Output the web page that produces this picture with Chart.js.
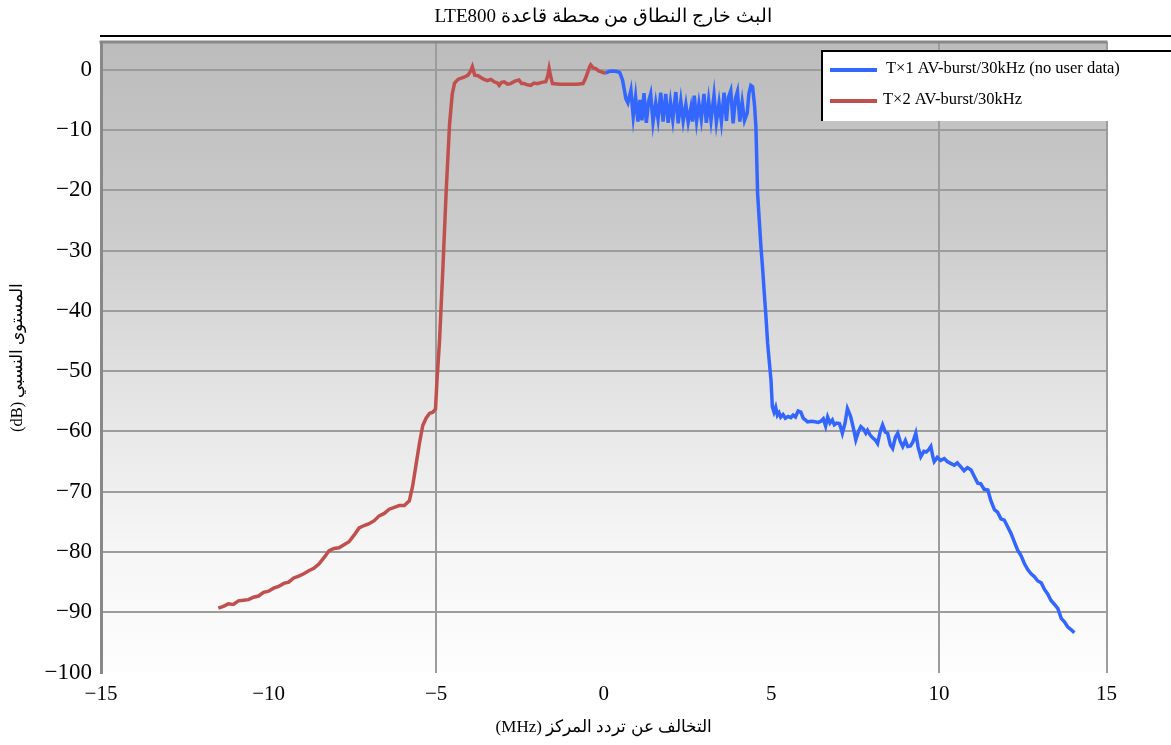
<!DOCTYPE html>
<html lang="ar">
<head>
  <meta charset="UTF-8" />
  <title>LTE800 out-of-band emission</title>
  <script src="https://cdn.jsdelivr.net/npm/chart.js"></script>
  <style>
    body { margin: 0; background: #fff; }
    canvas { display: block; }
  </style>
</head>
<body>
  <canvas id="oobChart" width="1171" height="745"></canvas>

  <script>
    // values (MHz offset / dB)
    const xTicks = [-15, -10, -5, 0, 5, 10, 15];
    const yTicks = [-100, -90, -80, -70, -60, -50, -40, -30, -20, -10, 0];
    const xGridShown = [-5, 10, 15];

    const tx2Freq = [-11.50, -11.35, -11.20, -11.05, -10.90, -10.75, -10.60, -10.45, -10.30, -10.15, -10.00, -9.85, -9.70, -9.55, -9.40, -9.25, -9.10, -8.95, -8.80, -8.65, -8.50, -8.40, -8.30, -8.20, -8.05, -7.90, -7.75, -7.60, -7.45, -7.30, -7.15, -7.00, -6.85, -6.70, -6.55, -6.40, -6.25, -6.10, -5.95, -5.80, -5.70, -5.60, -5.50, -5.40, -5.30, -5.20, -5.10, -5.02, -4.97, -4.90, -4.80, -4.70, -4.60, -4.52, -4.45, -4.35, -4.25, -4.15, -4.05, -3.97, -3.92, -3.85, -3.75, -3.67, -3.57, -3.47, -3.37, -3.27, -3.17, -3.12, -3.05, -2.97, -2.87, -2.78, -2.65, -2.53, -2.45, -2.38, -2.28, -2.18, -2.08, -1.98, -1.85, -1.73, -1.67, -1.63, -1.58, -1.53, -1.30, -1.05, -0.80, -0.62, -0.55, -0.49, -0.42, -0.39, -0.32, -0.24, -0.15, -0.09, 0.00, 0.06];
    const tx2Level = [-89.3, -89.0, -88.6, -88.7, -88.1, -88.0, -87.9, -87.5, -87.3, -86.7, -86.5, -86.0, -85.7, -85.2, -85.0, -84.3, -84.0, -83.6, -83.1, -82.7, -82.0, -81.3, -80.6, -79.8, -79.4, -79.3, -78.8, -78.3, -77.2, -76.0, -75.6, -75.3, -74.8, -74.0, -73.6, -72.9, -72.6, -72.3, -72.3, -71.5, -69.0, -65.5, -62.0, -59.0, -57.8, -57.0, -56.8, -56.3, -51.0, -45.0, -33.0, -20.0, -9.0, -4.0, -2.2, -1.6, -1.4, -1.2, -0.9, -0.2, 0.5, -0.9, -1.0, -1.3, -1.6, -1.8, -1.6, -2.0, -2.2, -2.6, -2.1, -2.0, -2.4, -2.3, -1.9, -1.7, -2.3, -2.3, -2.5, -2.6, -2.2, -2.3, -2.1, -2.0, -1.0, 0.2, -1.2, -2.3, -2.4, -2.4, -2.4, -2.3, -1.5, -0.6, 0.5, 0.8, 0.3, 0.2, -0.2, -0.3, -0.5, -0.6];

    const tx1Freq = [0.06, 0.15, 0.26, 0.40, 0.48, 0.56, 0.62, 0.66, 0.72, 0.81, 0.88, 0.95, 1.02, 1.08, 1.14, 1.20, 1.27, 1.34, 1.40, 1.47, 1.55, 1.62, 1.70, 1.77, 1.85, 1.92, 1.99, 2.06, 2.15, 2.22, 2.30, 2.37, 2.45, 2.52, 2.60, 2.65, 2.70, 2.77, 2.84, 2.91, 2.99, 3.06, 3.13, 3.20, 3.29, 3.36, 3.44, 3.51, 3.59, 3.66, 3.72, 3.79, 3.86, 3.93, 3.99, 4.06, 4.13, 4.20, 4.28, 4.33, 4.39, 4.44, 4.50, 4.54, 4.59, 4.64, 4.69, 4.74, 4.79, 4.84, 4.89, 4.94, 4.99, 5.03, 5.08, 5.13, 5.18, 5.23, 5.28, 5.35, 5.42, 5.50, 5.58, 5.65, 5.72, 5.80, 5.88, 5.95, 6.02, 6.08, 6.20, 6.30, 6.40, 6.48, 6.55, 6.62, 6.68, 6.75, 6.82, 6.88, 6.95, 7.03, 7.08, 7.12, 7.20, 7.27, 7.33, 7.37, 7.45, 7.52, 7.60, 7.67, 7.75, 7.82, 7.87, 7.95, 8.03, 8.10, 8.17, 8.25, 8.32, 8.40, 8.47, 8.55, 8.62, 8.70, 8.77, 8.85, 8.92, 9.00, 9.07, 9.15, 9.22, 9.31, 9.38, 9.46, 9.55, 9.62, 9.70, 9.76, 9.82, 9.86, 9.95, 10.05, 10.16, 10.25, 10.35, 10.46, 10.55, 10.66, 10.75, 10.85, 10.96, 11.06, 11.16, 11.25, 11.35, 11.46, 11.55, 11.66, 11.75, 11.85, 11.95, 12.05, 12.15, 12.25, 12.35, 12.45, 12.55, 12.65, 12.75, 12.85, 12.95, 13.05, 13.15, 13.25, 13.34, 13.45, 13.55, 13.60, 13.65, 13.75, 13.84, 13.95, 14.04];
    const tx1Level = [-0.6, -0.3, -0.2, -0.3, -0.5, -1.7, -3.5, -4.8, -5.5, -3.4, -7.8, -4.5, -8.6, -5.0, -8.4, -3.9, -8.8, -5.2, -4.0, -8.7, -5.5, -8.2, -3.8, -8.6, -4.0, -8.8, -5.4, -8.3, -3.7, -8.9, -5.2, -8.5, -5.8, -8.7, -6.3, -8.6, -4.3, -8.5, -5.6, -8.2, -4.0, -8.8, -5.1, -8.4, -4.2, -8.7, -5.5, -8.6, -3.8, -8.5, -4.6, -3.5, -8.9, -4.8, -3.6, -8.6, -5.4, -8.4, -7.2, -4.0, -2.6, -2.8, -6.0, -9.5, -20.5, -25.0, -29.4, -33.0, -37.1, -41.0, -45.4, -48.5, -51.5, -55.9, -56.8, -56.0, -57.3, -56.9, -57.6, -57.2, -57.8, -57.5, -57.7, -57.3, -57.6, -56.6, -56.8, -57.8, -58.1, -58.4, -58.3, -58.4, -58.5, -58.3, -57.9, -59.1, -57.6, -58.6, -58.1, -58.9, -58.6, -58.7, -59.5, -60.3, -58.6, -56.2, -57.0, -57.6, -59.5, -61.4, -60.0, -59.2, -59.6, -60.3, -59.8, -60.6, -61.1, -61.4, -62.0, -60.0, -58.9, -60.1, -60.3, -62.2, -62.8, -61.0, -60.3, -61.7, -62.5, -61.5, -62.5, -62.4, -61.8, -60.3, -62.6, -64.2, -63.3, -63.4, -63.0, -62.5, -64.2, -65.0, -64.3, -64.8, -64.5, -65.0, -65.3, -65.6, -65.2, -65.9, -66.5, -66.0, -66.4, -67.5, -68.6, -68.7, -69.6, -69.7, -71.5, -73.0, -73.4, -74.5, -74.7, -75.8, -76.9, -78.3, -79.7, -80.6, -81.9, -82.9, -83.6, -84.1, -84.8, -85.1, -86.2, -87.0, -88.0, -88.7, -89.4, -90.2, -91.0, -91.6, -92.4, -92.9, -93.4];

    const seriesNames = ['T\u00d71 AV-burst/30kHz (no user data)', 'T\u00d72 AV-burst/30kHz'];
    const chartTitle = 'البث خارج النطاق من محطة قاعدة LTE800';
    const xTitle = 'التخالف عن تردد المركز (MHz)';
    const yTitle = 'المستوى النسبي (dB)';

    const BLUE = '#3366ff';
    const RED = '#c0504d';
    const GRID = '#9c9c9c';
    const serif = "'Liberation Serif', 'DejaVu Serif', serif";
    const RLE = '\u202B', PDF = '\u202C';

    const toPoints = (xs, ys) => xs.map((x, i) => ({ x, y: ys[i] }));
    const minus = v => (v < 0 ? '\u2212' + Math.abs(v) : String(v));

    // gradient plot background + top border
    const backdrop = {
      id: 'backdrop',
      beforeDraw(chart) {
        const { ctx, chartArea: a } = chart;
        ctx.save();
        ctx.fillStyle = '#fff';
        ctx.fillRect(0, 0, chart.width, chart.height);
        const g = ctx.createLinearGradient(0, a.top, 0, a.bottom);
        g.addColorStop(0, '#bcbcbc');
        g.addColorStop(0.3, '#cbcbcb');
        g.addColorStop(0.55, '#e3e3e3');
        g.addColorStop(0.8, '#f6f6f6');
        g.addColorStop(1, '#fdfdfd');
        ctx.fillStyle = g;
        ctx.fillRect(a.left, a.top, a.right - a.left, a.bottom - a.top);
        ctx.restore();
      },
      beforeDatasetsDraw(chart) {
        const { ctx, chartArea: a } = chart;
        ctx.save();
        ctx.strokeStyle = '#888';
        ctx.lineWidth = 3;
        ctx.beginPath();
        ctx.moveTo(a.left - 1.5, a.top);
        ctx.lineTo(a.right + 1, a.top);
        ctx.stroke();
        ctx.restore();
      }
    };

    // title with its rule, and the boxed legend at top right
    const overlay = {
      id: 'overlay',
      afterDraw(chart) {
        const ctx = chart.ctx;
        ctx.save();
        ctx.fillStyle = '#000';
        ctx.font = '19px ' + serif;
        ctx.textAlign = 'center';
        ctx.textBaseline = 'middle';
        ctx.direction = 'rtl';
        ctx.fillText(chartTitle, 603, 17);
        ctx.direction = 'ltr';

        ctx.strokeStyle = '#000';
        ctx.lineWidth = 2;
        ctx.beginPath();
        ctx.moveTo(100, 36);
        ctx.lineTo(1171, 36);
        ctx.stroke();

        // legend box
        ctx.fillStyle = '#fff';
        ctx.fillRect(822, 51, 349, 70);
        ctx.beginPath();
        ctx.moveTo(822, 121);
        ctx.lineTo(822, 51);
        ctx.lineTo(1171, 51);
        ctx.stroke();

        const ds = chart.data.datasets;
        const rows = [70, 101];
        ds.forEach((d, i) => {
          ctx.strokeStyle = d.borderColor;
          ctx.lineWidth = 4;
          ctx.beginPath();
          ctx.moveTo(830, rows[i]);
          ctx.lineTo(877, rows[i]);
          ctx.stroke();
          ctx.fillStyle = '#000';
          ctx.font = '16.5px ' + serif;
          ctx.textAlign = 'left';
          ctx.fillText(d.label, i === 0 ? 886 : 883, rows[i] - 1);
        });
        ctx.restore();
      }
    };

    const ctx = document.getElementById('oobChart').getContext('2d');
    new Chart(ctx, {
      type: 'line',
      data: {
        datasets: [
          {
            label: seriesNames[0],
            data: toPoints(tx1Freq, tx1Level),
            borderColor: BLUE,
            borderWidth: 3.5,
            pointRadius: 0,
            tension: 0
          },
          {
            label: seriesNames[1],
            data: toPoints(tx2Freq, tx2Level),
            borderColor: RED,
            borderWidth: 3.5,
            pointRadius: 0,
            tension: 0
          }
        ]
      },
      options: {
        responsive: false,
        animation: false,
        layout: { padding: { top: 42, right: 64.5, left: 0, bottom: 0 } },
        plugins: {
          legend: { display: false },
          tooltip: { enabled: false }
        },
        scales: {
          x: {
            type: 'linear',
            min: -15,
            max: 15,
            afterBuildTicks: s => { s.ticks = xTicks.map(v => ({ value: v })); },
            afterFit: s => { s.height = 72.4; },
            grid: {
              color: c => (c.tick && xGridShown.includes(c.tick.value) ? GRID : 'rgba(0,0,0,0)'),
              lineWidth: 2,
              drawTicks: false
            },
            border: { display: false },
            ticks: {
              color: '#000',
              padding: 9,
              font: { family: serif, size: 21 },
              callback: v => minus(v)
            },
            title: {
              display: true,
              text: RLE + xTitle + PDF,
              color: '#000',
              font: { family: serif, size: 17 },
              padding: { top: 0, bottom: 7 }
            }
          },
          y: {
            type: 'linear',
            min: -100,
            max: 4.6,
            afterBuildTicks: s => { s.ticks = yTicks.map(v => ({ value: v })); },
            afterFit: s => { s.width = 101; },
            grid: {
              color: c => (c.tick && c.tick.value === -100 ? 'rgba(0,0,0,0)' : GRID),
              lineWidth: 2,
              drawTicks: false
            },
            border: { color: '#888', width: 3 },
            ticks: {
              color: '#000',
              padding: 9,
              font: { family: serif, size: 23 },
              callback: v => minus(v)
            },
            title: {
              display: true,
              text: RLE + yTitle + PDF,
              color: '#000',
              font: { family: serif, size: 16.5 },
              padding: { top: 8, bottom: 0 }
            }
          }
        }
      },
      plugins: [backdrop, overlay]
    });
  </script>
</body>
</html>
